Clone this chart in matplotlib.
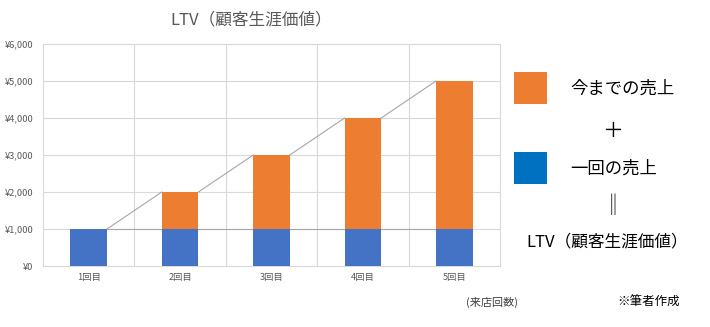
import matplotlib
matplotlib.use("Agg")
import matplotlib.pyplot as plt
import matplotlib.patches as mpatches

plt.rcParams['font.family'] = ['Noto Sans CJK JP', 'DejaVu Sans']

# data
visits = ['1回目', '2回目', '3回目', '4回目', '5回目']
one_time = [1000, 1000, 1000, 1000, 1000]
past_sales = [0, 1000, 2000, 3000, 4000]
y_ticks = [0, 1000, 2000, 3000, 4000, 5000, 6000]

blue = '#4472C4'
orange = '#ED7D31'
grid_c = '#D9D9D9'
text_c = '#595959'
bar_w = 0.4

fig = plt.figure(figsize=(7.1, 3.27), dpi=100)
ax = fig.add_axes([43 / 710, 1 - 266 / 327, 457 / 710, 222 / 327])

x = list(range(len(visits)))
ax.bar(x, one_time, width=bar_w, color=blue, zorder=3)
ax.bar(x, past_sales, width=bar_w, bottom=one_time, color=orange, zorder=3)

# series lines between neighbouring bars
tops = [a + b for a, b in zip(one_time, past_sales)]
for i in range(len(x) - 1):
    x0 = x[i] + bar_w / 2
    x1 = x[i + 1] - bar_w / 2
    ax.plot([x0, x1], [one_time[i], one_time[i + 1]], color='#A6A6A6',
            lw=0.8, zorder=2)
    ax.plot([x0, x1], [tops[i], tops[i + 1]], color='#A6A6A6',
            lw=0.8, zorder=2)

ax.set_xlim(-0.5, len(x) - 0.5)
ax.set_ylim(0, 6000)
ax.set_yticks(y_ticks)
ax.set_yticklabels(['¥{:,}'.format(v) for v in y_ticks])
ax.set_xticks(x)
ax.set_xticklabels(visits)
ax.set_xticks([i + 0.5 for i in x[:-1]], minor=True)
ax.tick_params(axis='both', which='both', length=0, labelsize=6.7,
               labelcolor=text_c)
ax.tick_params(axis='y', pad=7)
ax.tick_params(axis='x', pad=5)
ax.grid(True, axis='y', which='major', color=grid_c, lw=0.8, zorder=0)
ax.grid(True, axis='x', which='minor', color=grid_c, lw=0.8, zorder=0)
for s in ax.spines.values():
    s.set_color(grid_c)
    s.set_linewidth(0.8)

fig.text(251 / 710, 1 - 20 / 327, 'LTV（顧客生涯価値）', fontsize=12,
         color=text_c, ha='center', va='center')

# explanation on the right
sq_w = 33 / 710
sq_h = 32 / 327
fig.add_artist(mpatches.Rectangle((514 / 710, 1 - 104 / 327), sq_w, sq_h,
                                  transform=fig.transFigure, fc=orange,
                                  ec='none'))
fig.add_artist(mpatches.Rectangle((514 / 710, 1 - 184 / 327), sq_w, sq_h,
                                  transform=fig.transFigure, fc='#0070C0',
                                  ec='none'))
fig.text(570 / 710, 1 - 89 / 327, '今までの売上', fontsize=12.5,
         ha='left', va='center')
fig.text(613 / 710, 1 - 131 / 327, '＋', fontsize=15,
         ha='center', va='center')
fig.text(570 / 710, 1 - 169 / 327, '一回の売上', fontsize=12.5,
         ha='left', va='center')
fig.text(613 / 710, 1 - 206 / 327, '‖', fontsize=15,
         ha='center', va='center')
fig.text(607 / 710, 1 - 242 / 327, 'LTV（顧客生涯価値）', fontsize=12,
         ha='center', va='center')

fig.text(492 / 710, 1 - 302 / 327, '(来店回数)', fontsize=8,
         color='#404040', ha='center', va='center')
fig.text(649 / 710, 1 - 302 / 327, '※筆者作成', fontsize=9,
         ha='center', va='center')

fig.savefig('out.png', dpi=100)
